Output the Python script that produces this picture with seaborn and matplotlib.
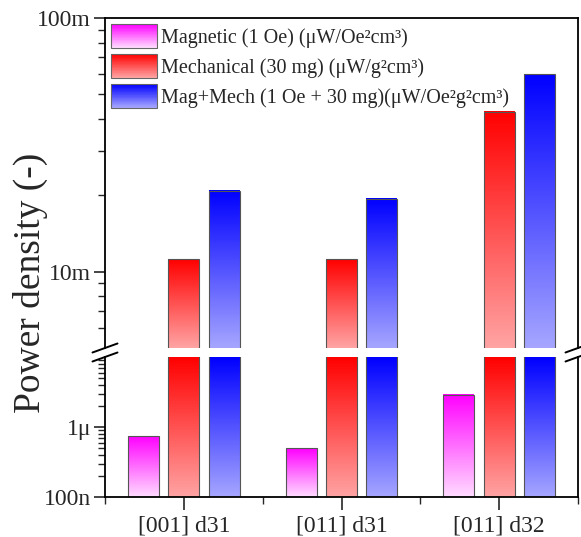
import numpy as np
import pandas as pd
import matplotlib
matplotlib.use('Agg')
import matplotlib.pyplot as plt
from matplotlib.colors import LinearSegmentedColormap, to_rgb
from matplotlib.legend_handler import HandlerBase
from matplotlib.patches import Rectangle
from matplotlib.ticker import FixedLocator, FixedFormatter, NullFormatter
import seaborn as sns

categories = ['[001] d31', '[011] d31', '[011] d32']
modes = ['Magnetic (1 Oe) (\u03bcW/Oe\u00b2cm\u00b3)',
         'Mechanical (30 mg) (\u03bcW/g\u00b2cm\u00b3)',
         'Mag+Mech (1 Oe + 30 mg)(\u03bcW/Oe\u00b2g\u00b2cm\u00b3)']
magnetic = [7.4e-7, 5.0e-7, 2.9e-6]
mechanical = [1.12e-2, 1.12e-2, 4.27e-2]
mag_mech = [2.08e-2, 1.94e-2, 6.0e-2]

top_colors = ['#ff00ff', '#ff0000', '#0000ff']
bottom_colors = ['#ffdcff', '#ffa4a4', '#a6a6ff']

rows = []
for mode, vals in zip(modes, [magnetic, mechanical, mag_mech]):
    for cat, v in zip(categories, vals):
        rows.append({'Orientation': cat, 'Mode': mode, 'Power': v})
df = pd.DataFrame(rows)

sns.set_theme(style='ticks')
plt.rcParams['font.family'] = ['Liberation Serif', 'DejaVu Serif']
plt.rcParams['axes.linewidth'] = 1.3

fig = plt.figure(figsize=(5.81, 5.37), dpi=100)
W, H = 581, 537
left, right = 105, 578
ax_top = fig.add_axes([left / W, 1 - 348 / H, (right - left) / W, 330 / H])
ax_bot = fig.add_axes([left / W, 1 - 497 / H, (right - left) / W, 140 / H])


def gradient_bar(ax, patch, c_top, c_bot):
    ymin, ymax = ax.get_ylim()
    x0, w, h = patch.get_x(), patch.get_width(), patch.get_height()
    top = min(h, ymax)
    if top <= ymin:
        return
    to_axes = ax.transData + ax.transAxes.inverted()
    ax0, ay0 = to_axes.transform((x0, ymin))
    ax1, ay1 = to_axes.transform((x0 + w, top))
    cmap = LinearSegmentedColormap.from_list('g', [c_bot, c_top])
    grad = np.linspace(0, 1, 256).reshape(-1, 1)
    ax.imshow(grad, cmap=cmap, extent=(ax0, ax1, ay0, ay1), origin='lower',
              aspect='auto', transform=ax.transAxes, zorder=1)


for ax, ylim in [(ax_top, (5e-3, 0.1)), (ax_bot, (1e-7, 1e-5))]:
    ax.set_yscale('log')
    sns.barplot(data=df, x='Orientation', y='Power', hue='Mode',
                palette=top_colors, width=0.765, gap=0.23, legend=False, ax=ax)
    ax.set_xlim(-0.5, 2.5)
    ax.set_ylim(*ylim)
    for i, cont in enumerate(ax.containers):
        for p in cont.patches:
            gradient_bar(ax, p, top_colors[i], bottom_colors[i])
            p.set_facecolor('none')
            p.set_edgecolor('#555555')
            p.set_linewidth(0.8)
            p.set_zorder(2)
    ax.set_xlim(-0.5, 2.5)
    ax.set_ylim(*ylim)
    ax.set_xlabel('')
    ax.set_ylabel('')
    ax.tick_params(axis='y', which='major', length=8, width=1.2, labelsize=17, pad=2, direction='out')
    ax.tick_params(axis='y', which='minor', length=5, width=1.0, direction='out')
    for s in ax.spines.values():
        s.set_color('black')
        s.set_linewidth(1.3)

# top segment
ax_top.spines['bottom'].set_visible(False)
ax_top.tick_params(axis='x', which='both', bottom=False, labelbottom=False)
ax_top.yaxis.set_major_locator(FixedLocator([1e-2, 1e-1]))
ax_top.yaxis.set_major_formatter(FixedFormatter(['10m', '100m']))
ax_top.yaxis.set_minor_locator(FixedLocator([6e-3, 7e-3, 8e-3, 9e-3] + [k * 1e-2 for k in range(2, 10)]))
ax_top.yaxis.set_minor_formatter(NullFormatter())

# bottom segment
ax_bot.spines['top'].set_visible(False)
ax_bot.yaxis.set_major_locator(FixedLocator([1e-7, 1e-6]))
ax_bot.yaxis.set_major_formatter(FixedFormatter(['100n', '1\u03bc']))
ax_bot.yaxis.set_minor_locator(FixedLocator([k * 1e-7 for k in range(2, 10)] + [k * 1e-6 for k in range(2, 10)]))
ax_bot.yaxis.set_minor_formatter(NullFormatter())
ax_bot.set_xticks(range(len(categories)))
ax_bot.set_xticklabels(categories)
ax_bot.xaxis.set_minor_locator(FixedLocator([-0.5, 0.5, 1.5, 2.5]))
ax_bot.tick_params(axis='x', which='major', length=9, width=1.2, labelsize=17, pad=4)
ax_bot.tick_params(axis='x', which='minor', length=5, width=1.0)

# break marks on both spines
for xs in (left, right):
    for yc in (348, 357):
        fig.add_artist(plt.Line2D([(xs - 12.5) / W, (xs + 12.5) / W],
                                  [1 - (yc + 4.5) / H, 1 - (yc - 4.5) / H],
                                  transform=fig.transFigure, color='black', lw=1.4))

fig.text(30 / W, 1 - 283 / H, 'Power density (-)', rotation=90, fontsize=27,
         ha='center', va='center')


class GradientHandler(HandlerBase):
    def __init__(self, c_top, c_bot):
        super().__init__()
        self.c_top = np.array(to_rgb(c_top))
        self.c_bot = np.array(to_rgb(c_bot))

    def create_artists(self, legend, orig_handle, xdescent, ydescent, width,
                       height, fontsize, trans):
        n = 40
        arts = []
        for i in range(n):
            f = i / (n - 1)
            col = self.c_bot * (1 - f) + self.c_top * f
            arts.append(Rectangle((-xdescent, -ydescent + height * i / n), width,
                                  height / n * 1.05, facecolor=col,
                                  edgecolor='none', transform=trans))
        arts.append(Rectangle((-xdescent, -ydescent), width, height,
                              facecolor='none', edgecolor='#666666', lw=0.8,
                              transform=trans))
        return arts


proxies = [Rectangle((0, 0), 1, 1) for _ in modes]
hmap = {p: GradientHandler(top_colors[i], bottom_colors[i]) for i, p in enumerate(proxies)}
ax_top.legend(proxies, modes, handler_map=hmap, loc='upper left',
              bbox_to_anchor=(0.0, 1.0), frameon=False, fontsize=14.5,
              handlelength=2.3, handleheight=1.45, handletextpad=0.2,
              labelspacing=0.3, borderaxespad=0.1, borderpad=0.2)

fig.savefig('out.png', dpi=100)
